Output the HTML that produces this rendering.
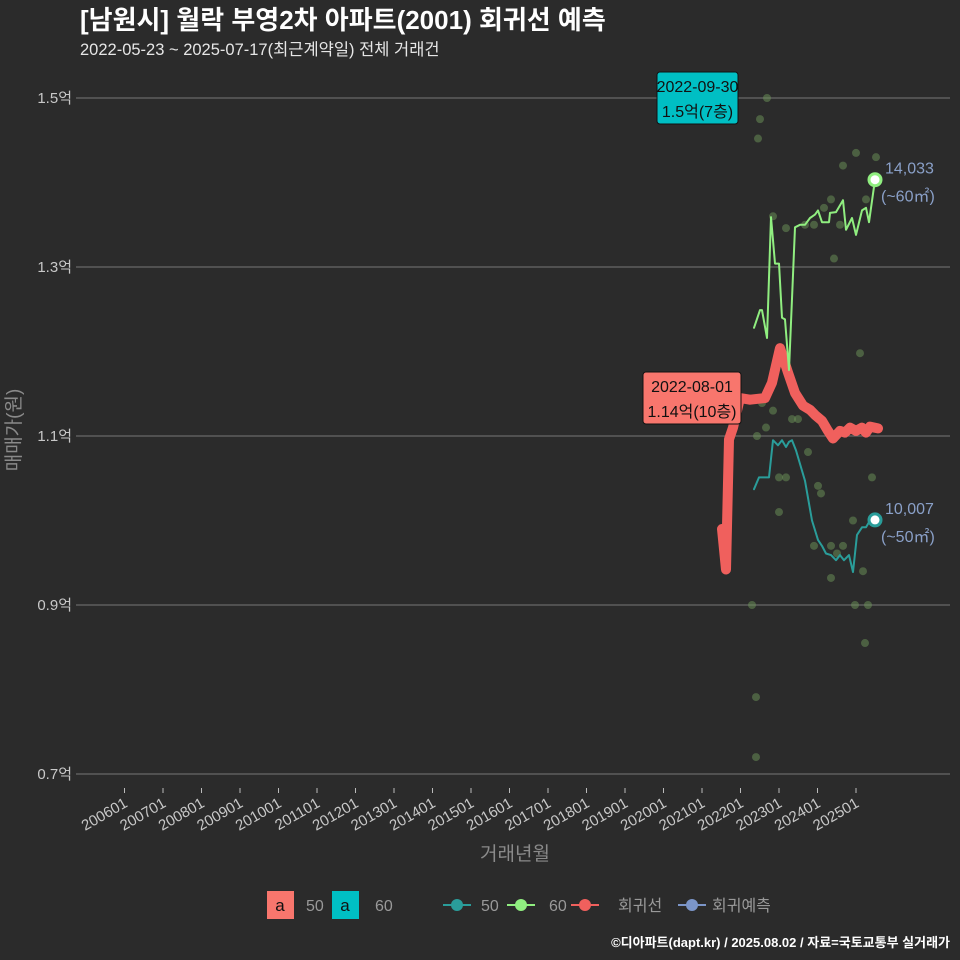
<!DOCTYPE html>
<html><head><meta charset="utf-8"><style>
body{margin:0;background:#2b2b2b;}
svg{display:block;font-family:"Liberation Sans","Noto Sans CJK KR",sans-serif;}
</style></head><body>
<svg id="c" width="960" height="960" viewBox="0 0 960 960">
<rect width="960" height="960" fill="#2b2b2b"/>
<text x="80" y="29" font-size="26" font-weight="bold" fill="#fff">[남원시] 월락 부영2차 아파트(2001) 회귀선 예측</text>
<text x="80" y="55" font-size="16.5" fill="#e6e6e6">2022-05-23 ~ 2025-07-17(최근계약일) 전체 거래건</text>
<g id="grid"></g><g id="pts"></g><g id="lines"></g><g id="ann"></g>
<text transform="translate(20,430) rotate(-90)" text-anchor="middle" font-size="19" fill="#8a8a8a">매매가(원)</text>
<text x="515" y="860" text-anchor="middle" font-size="19" fill="#8a8a8a">거래년월</text>
<g font-size="16" fill="#999">
<rect x="267" y="891" width="27" height="28" fill="#f8766d"/><text x="280" y="911" text-anchor="middle" fill="#111" font-size="17">a</text><text x="306" y="911">50</text>
<rect x="332" y="891" width="27" height="28" fill="#00bfc4"/><text x="345" y="911" text-anchor="middle" fill="#111" font-size="17">a</text><text x="375" y="911">60</text>
<g><line x1="443" y1="905" x2="471" y2="905" stroke="#2a9d9a" stroke-width="2"/><circle cx="457" cy="905" r="6" fill="#2a9d9a"/><text x="481" y="911">50</text></g>
<g><line x1="507" y1="905" x2="535" y2="905" stroke="#90ee80" stroke-width="2"/><circle cx="521" cy="905" r="6" fill="#90ee80"/><text x="549" y="911">60</text></g>
<g><line x1="571" y1="905" x2="599" y2="905" stroke="#f0605d" stroke-width="2"/><circle cx="585" cy="905" r="6" fill="#f0605d"/><text x="618" y="911">회귀선</text></g>
<g><line x1="678" y1="905" x2="706" y2="905" stroke="#7b95c8" stroke-width="2"/><circle cx="692" cy="905" r="6" fill="#7b95c8"/><text x="712" y="911">회귀예측</text></g>
</g>
<text x="950" y="947" text-anchor="end" font-size="13" font-weight="bold" fill="#fff">©디아파트(dapt.kr) / 2025.08.02 / 자료=국토교통부 실거래가</text>
</svg>
<script>
const yTicks=[15000,13000,11000,9000,7000];
const yTickLabels=['1.5억','1.3억','1.1억','0.9억','0.7억'];
const xTickYears=[2006,2007,2008,2009,2010,2011,2012,2013,2014,2015,2016,2017,2018,2019,2020,2021,2022,2023,2024,2025];
const s60x=[754,760,762,767,771,775,779,782,785,789,795,800,805,810,815,818,822,829,830,836,843,846,852,856,862,866,869,875];
const s60v=[12280,12490,12490,12160,13590,13040,13040,12400,12380,11780,13470,13500,13500,13580,13620,13670,13530,13530,13640,13650,13790,13440,13580,13380,13670,13700,13530,14033];
const s50x=[754,759,769,773,778,782,786,789,792,796,805,812,818,822,826,831,836,840,844,849,853,857,862,866,870,875];
const s50v=[10370,10510,10510,10950,10890,10950,10870,10930,10950,10830,10470,10000,9770,9700,9610,9590,9530,9590,9530,9590,9390,9830,9920,9920,10000,10007];
const regx=[722,726,729,733,740,750,765,772,780,788,795,803,810,815,822,828,833,840,845,850,856,862,866,870,878];
const regv=[9900,9420,10960,11100,11450,11430,11450,11630,12040,11750,11510,11360,11310,11250,11180,11060,10970,11060,11040,11100,11060,11100,11040,11110,11090];
const scx=[752,756,756,758,760,767,773,786,757,766,773,762,779,786,779,792,798,805,808,814,818,821,824,831,834,840,843,856,860,866,876,872,853,843,831,814,837,831,863,855,868,865];
const scv=[9000,7910,7200,14520,14750,15000,13600,13460,11000,11100,11300,11390,10510,10510,10100,11200,11200,13500,10810,13500,10410,10320,13700,13800,13100,13500,14200,14350,11980,13800,14300,10510,10000,9700,9700,9700,9610,9320,9400,9000,9000,8550];
const ns='http://www.w3.org/2000/svg';
const X=yr=>856+(yr-2025)*38.5;
const Y=v=>98+(15000-v)*169/2000;
function mk(tag,attrs,parent){const e=document.createElementNS(ns,tag);for(const k in attrs)e.setAttribute(k,attrs[k]);document.getElementById(parent).appendChild(e);return e;}
yTicks.forEach((v,i)=>{
 const l=mk('line',{x1:76,x2:950,y1:Y(v),y2:Y(v),stroke:'#777','stroke-width':1},'grid');
 
 
 const t=mk('text',{x:72,y:Y(v)+5,'text-anchor':'end','font-size':15,fill:'#c8c8c8'},'grid');
 t.textContent=yTickLabels[i];
 
 
});
xTickYears.forEach(yr=>{
 const x=X(yr);
 const l=mk('line',{x1:x,x2:x,y1:788,y2:793,stroke:'#bbb'},'grid');
 
 
 const t=mk('text',{transform:`translate(${x+4},806) rotate(-30)`,'text-anchor':'end','font-size':15,fill:'#c8c8c8'},'grid');
 t.textContent=yr+'01';
 
 
});
const yr=px=>2025+(px-856)/38.5;
scx.forEach((px,i)=>{
 const c=mk('circle',{cx:X(yr(px)),cy:Y(scv[i]),r:4,fill:'rgba(110,150,90,0.5)'},'pts');
 
 
});
function line(xs,vs,color,w,name){
 const d=xs.map((px,i)=>(i?'L':'M')+X(yr(px)).toFixed(1)+','+Y(vs[i]).toFixed(1)).join('');
 const p=mk('path',{d:d,fill:'none',stroke:color,'stroke-width':w,'stroke-linejoin':'round','stroke-linecap':'round'},'lines');
 
 
}
line(regx,regv,'#f0605d',10,'regression-line');
line(s60x,s60v,'#90ee80',2,'series-60-line');
line(s50x,s50v,'#2a9d9a',2,'series-50-line');
function endpt(px,v,color,lab1,lab2,name){
 const c=mk('circle',{cx:X(yr(px)),cy:Y(v),r:6,fill:'#fff',stroke:color,'stroke-width':3},'ann');
 
 
 const t1=mk('text',{x:X(yr(px))+10,y:Y(v)-6,'font-size':16,fill:'#8aa0c8'},'ann');t1.textContent=lab1;
 
 
 const t2=mk('text',{x:X(yr(px))+6,y:Y(v)+22,'font-size':16,fill:'#8aa0c8'},'ann');t2.textContent=lab2;
 
 
}
endpt(875,14033,'#90ee80','14,033','(~60㎡)','series-60');
endpt(875,10007,'#2a9d9a','10,007','(~50㎡)','series-50');
function box(x,y,w,h,color,l1,l2,name){
 const r=mk('rect',{x:x,y:y,width:w,height:h,rx:3,fill:color,stroke:'#111','stroke-width':1},'ann');
 
 
 const a=mk('text',{x:x+w/2,y:y+20,'text-anchor':'middle','font-size':16,fill:'#111'},'ann');a.textContent=l1;
 
 
 const b=mk('text',{x:x+w/2,y:y+45,'text-anchor':'middle','font-size':16,fill:'#111'},'ann');b.textContent=l2;
 
 
}
box(657,72,81,52,'#00bfc4','2022-09-30','1.5억(7층)','max-60-annotation');
box(643,372,98,52,'#f8766d','2022-08-01','1.14억(10층)','max-50-annotation');
</script>
</body></html>
